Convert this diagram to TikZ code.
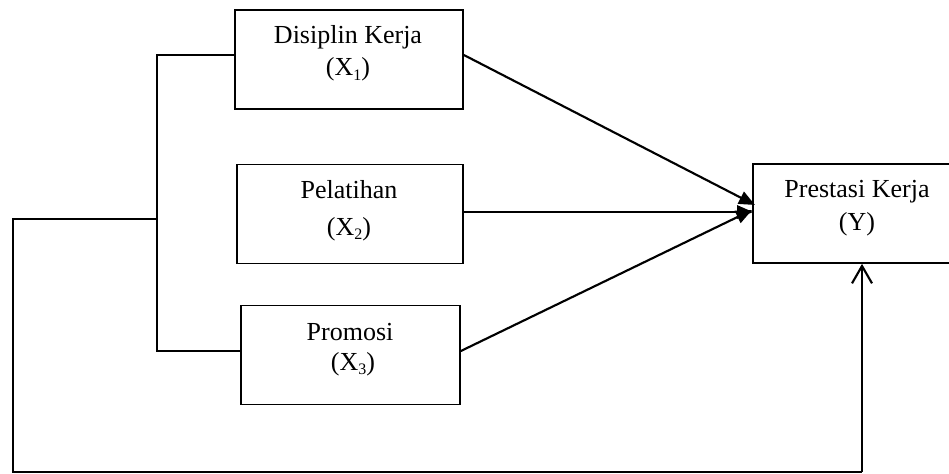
\documentclass[tikz,border=0pt]{standalone}
\usepackage{fontspec}
\setmainfont{Liberation Serif}
\usetikzlibrary{arrows.meta}
\newcommand{\subx}[1]{\raisebox{-0.35ex}{\fontsize{12}{12}\selectfont #1}}
\begin{document}
\begin{tikzpicture}[x=0.75pt,y=-0.75pt,
  box/.style={draw,line width=1.3pt,minimum width=#1*0.75pt,inner sep=0pt,minimum height=99*0.75pt},
  lbl/.style={anchor=base,inner sep=0pt,font=\fontsize{19.5}{22}\selectfont},
  conn/.style={line width=1.3pt},
  arr/.style={line width=1.6pt,-{Triangle[length=12pt,width=10pt]}},
  back/.style={line width=1.6pt,-{Straight Barb[length=13pt,width=15pt,line width=1.6pt]}}]
\clip (0,0) rectangle (949,474);
% boxes
\node[box=228] (x1) at (349,59.5) {};
\node[box=226] (x2) at (350,214) {};
\node[box=219] (x3) at (350.5,355) {};
\node[box=200] (yy) at (853,213.5) {};
% labels
\node[lbl] (t1a) at (348,44) {Disiplin Kerja};
\node[lbl] (t1b) at (348,76) {(X\subx{1})};
\node[lbl] (t2a) at (349,199) {Pelatihan};
\node[lbl] (t2b) at (349,235) {(X\subx{2})};
\node[lbl] (t3a) at (350,340) {Promosi};
\node[lbl] (t3b) at (353,370) {(X\subx{3})};
\node[lbl] (tya) at (857,198) {Prestasi Kerja};
\node[lbl] (tyb) at (857,230) {(Y)};
% bracket on the left
\coordinate (b1) at (157,55);
\coordinate (b2) at (157,219);
\coordinate (b3) at (157,351);
\coordinate (l1) at (13,219);
\coordinate (l2) at (13,472);
\coordinate (r2) at (862,472);
\draw[conn] (x1.west |- b1) -- (b1) -- (b3) -- (x3.west |- b3);
\draw[conn] (b2) -- (l1) -- (l2) -- (r2);
\draw[back] (r2) -- (r2 |- yy.south);
% arrows to Y
\coordinate (p1) at (755,205);
\coordinate (p2) at (753,212);
\coordinate (p3) at (752,210);
\draw[arr] (x1.east |- b1) -- (p1);
\draw[arr] (x2.east |- p2) -- (p2);
\draw[arr] (x3.east |- b3) -- (p3);
\end{tikzpicture}
\end{document}
